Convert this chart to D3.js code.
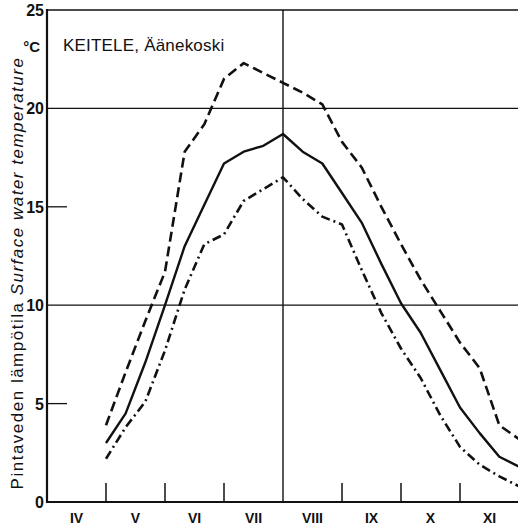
<!DOCTYPE html>
<meta charset='utf-8'>
<head>
    <title>Keitele surface water temperature</title>
    <script src='https://cdn.jsdelivr.net/npm/d3@7/dist/d3.min.js'></script>
</head>

<style>
    body { margin: 0; background: white; }
    text { font-family: 'Liberation Sans', Arial, sans-serif; fill: #111; }
    .frame { stroke: #111; fill: none; }
    .series { fill: none; stroke: #111; stroke-linejoin: round; }
</style>

<svg></svg>

<script>
    var vWidth = 518;
    var vHeight = 530;

    // 10-day observation dates (day.month), May 1st .. Dec 1st
    var vDates = ['1.5', '11.5', '21.5', '1.6', '11.6', '21.6', '1.7', '11.7', '21.7', '1.8', '11.8',
        '21.8', '1.9', '11.9', '21.9', '1.10', '11.10', '21.10', '1.11', '11.11', '21.11', '1.12'];
    // temperatures, deg C
    var vMax = [3.9, 6.6, 9.2, 11.7, 17.8, 19.2, 21.5, 22.3, 21.8, 21.3, 20.8,
        20.2, 18.3, 17.0, 15.0, 13.1, 11.3, 9.7, 8.1, 6.8, 3.9, 3.2];
    var vMean = [3.0, 4.5, 7.1, 10.0, 13.0, 15.1, 17.2, 17.8, 18.1, 18.7, 17.8,
        17.2, 15.7, 14.2, 12.1, 10.1, 8.6, 6.7, 4.8, 3.5, 2.3, 1.8];
    var vMin = [2.2, 3.8, 5.1, 7.7, 10.8, 13.1, 13.6, 15.3, 15.9, 16.5, 15.4,
        14.5, 14.1, 11.8, 9.6, 7.8, 6.3, 4.4, 2.8, 1.9, 1.3, 0.8];
    var vMonths = ['IV', 'V', 'VI', 'VII', 'VIII', 'IX', 'X', 'XI'];
    var vYTicks = [0, 5, 10, 15, 20, 25];

    var svg = d3.select('svg').attr('width', vWidth).attr('height', vHeight);

    // month axis: 0 = 1st of April
    var x = d3.scaleLinear().domain([0, 8]).range([47, 519]);
    var y = d3.scaleLinear().domain([0, 25]).range([502, 10]);

    function datePos(s) {
        var p = s.split('.');
        return (+p[1] - 4) + (+p[0] - 1) / 30;
    }

    // grid lines
    svg.selectAll('line.grid').data([10, 20, 25]).enter().append('line')
        .attr('class', 'frame')
        .attr('x1', x(0)).attr('x2', vWidth)
        .attr('y1', function (d) { return y(d); }).attr('y2', function (d) { return y(d); })
        .attr('stroke-width', function (d) { return d == 25 ? 1.6 : 1.3; });
    svg.selectAll('line.short').data([5, 15]).enter().append('line')
        .attr('class', 'frame')
        .attr('x1', x(0)).attr('x2', x(0) + 20)
        .attr('y1', function (d) { return y(d); }).attr('y2', function (d) { return y(d); })
        .attr('stroke-width', 1.3);
    svg.append('line').attr('class', 'frame')
        .attr('x1', x(4)).attr('x2', x(4)).attr('y1', y(25)).attr('y2', y(0))
        .attr('stroke-width', 1.4);

    // month ticks
    svg.selectAll('line.mtick').data([1, 2, 3, 5, 6, 7]).enter().append('line')
        .attr('class', 'frame')
        .attr('x1', function (d) { return x(d); }).attr('x2', function (d) { return x(d); })
        .attr('y1', y(0) - 19).attr('y2', y(0))
        .attr('stroke-width', 1.5);

    // axes
    svg.append('line').attr('class', 'frame')
        .attr('x1', x(0)).attr('x2', x(0)).attr('y1', y(25) - 1).attr('y2', y(0) + 1)
        .attr('stroke-width', 2.2);
    svg.append('line').attr('class', 'frame')
        .attr('x1', x(0) - 1).attr('x2', vWidth).attr('y1', y(0)).attr('y2', y(0))
        .attr('stroke-width', 2.2);

    // tick labels
    svg.selectAll('text.ylab').data(vYTicks).enter().append('text')
        .attr('x', x(0) - 3).attr('y', function (d) { return y(d) + 6; })
        .attr('text-anchor', 'end')
        .style('font-size', '16px').style('font-weight', 'bold')
        .text(function (d) { return d; });

    svg.selectAll('text.xlab').data(vMonths).enter().append('text')
        .attr('x', function (d, i) { return x(i + 0.5); }).attr('y', 523)
        .attr('text-anchor', 'middle')
        .style('font-size', '14px').style('font-weight', 'bold')
        .text(function (d) { return d; });

    svg.append('text').attr('x', 40).attr('y', 52).attr('text-anchor', 'end')
        .style('font-size', '15px').style('font-weight', 'bold').text('°C');

    svg.append('text').attr('x', 63).attr('y', 51)
        .style('font-size', '17px').style('letter-spacing', '0.2px').text('KEITELE, Äänekoski');

    var yTitle = svg.append('text')
        .attr('transform', 'translate(23,' + 273 + ') rotate(-90)')
        .attr('text-anchor', 'middle')
        .style('font-size', '17px').style('letter-spacing', '1.5px');
    yTitle.append('tspan').text('Pintaveden lämpötila  ');
    yTitle.append('tspan').style('font-style', 'italic').text('Surface water temperature');

    // series
    var line = d3.line()
        .x(function (d) { return x(datePos(d[0])); })
        .y(function (d) { return y(d[1]); });

    var vSeries = [
        {values: vMax, dash: '10,5', width: 2.6},
        {values: vMean, dash: null, width: 2.4},
        {values: vMin, dash: '9,4,2,4', width: 2.6}
    ];

    svg.selectAll('path.series').data(vSeries).enter().append('path')
        .attr('class', 'series')
        .attr('stroke-width', function (d) { return d.width; })
        .attr('stroke-dasharray', function (d) { return d.dash; })
        .attr('d', function (d) { return line(d3.zip(vDates, d.values)); });
</script>
